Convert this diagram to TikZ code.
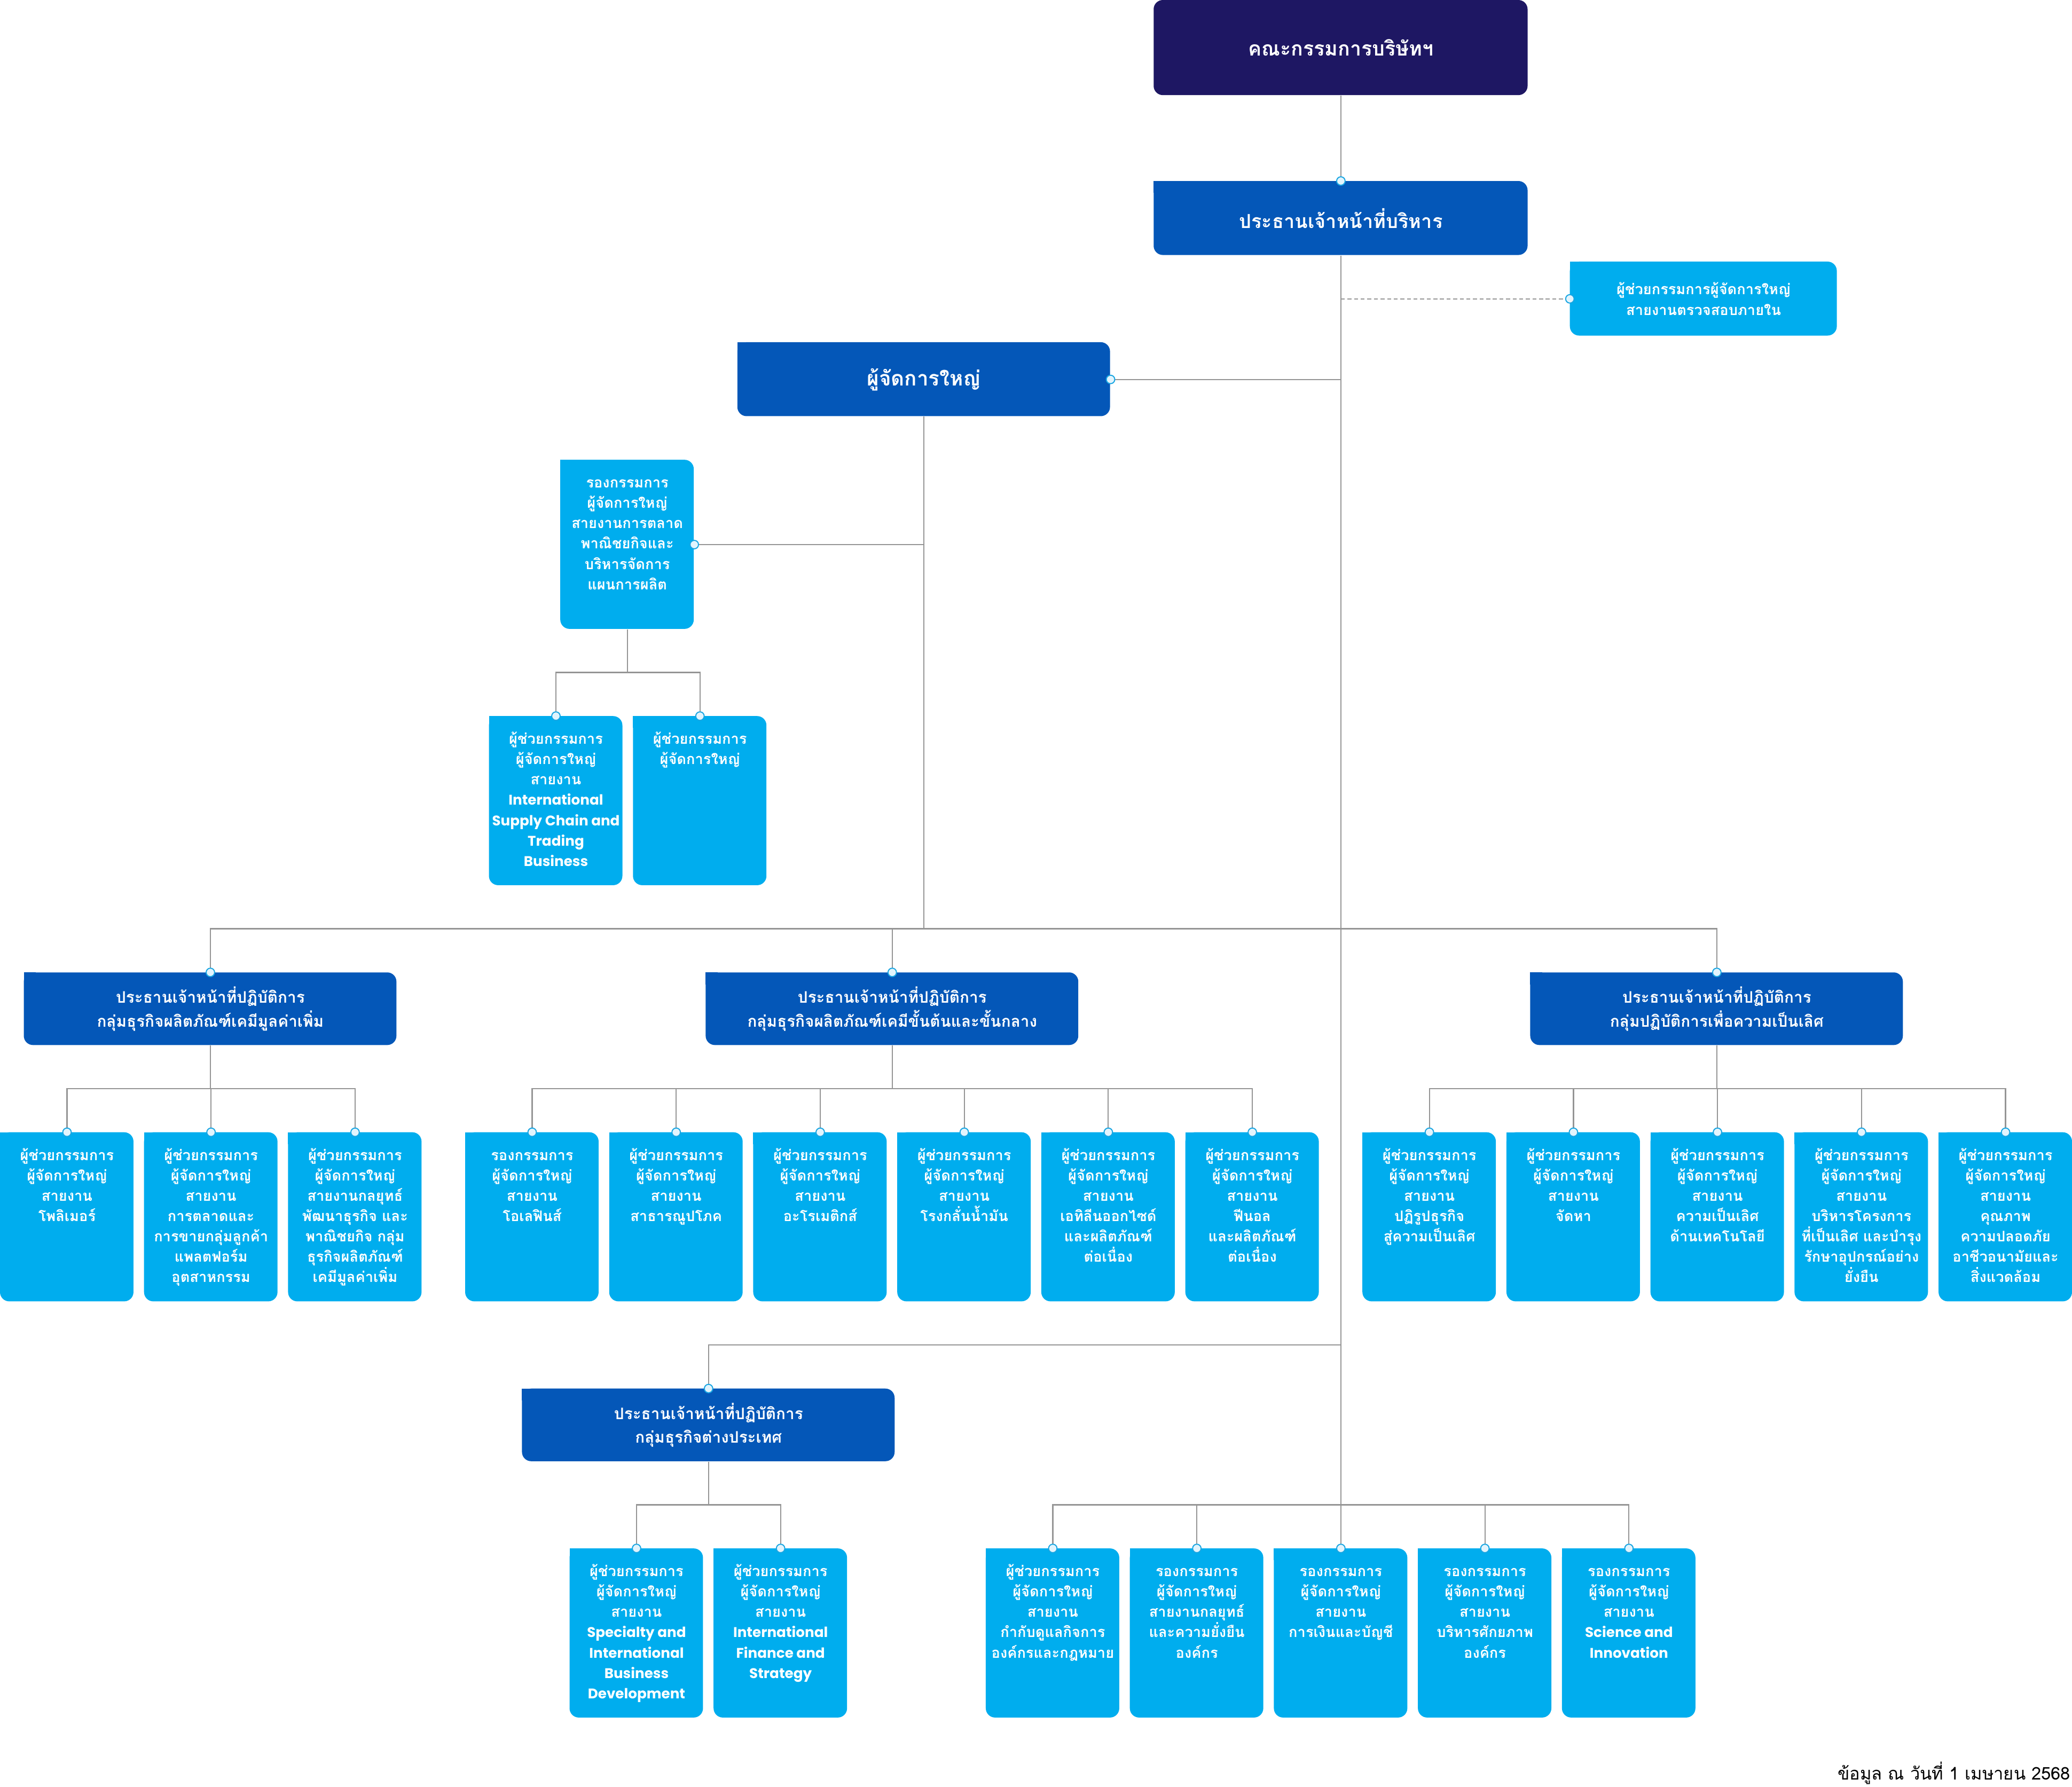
\documentclass[tikz,border=0pt]{standalone}
\usepackage{fontspec}
\setmainfont{Loma}[Script=Thai]
\newfontfamily\en{Poppins}
\newcommand\enl[1]{{\en\fontsize{10.6}{15.4}\selectfont #1}}
\definecolor{boardc}{HTML}{1E1763}
\definecolor{darkb}{HTML}{0457B8}
\definecolor{lightb}{HTML}{00ADEE}
\definecolor{linegray}{HTML}{959595}
\definecolor{dotfill}{HTML}{E2F4FD}
\definecolor{dotedge}{HTML}{1AA6E2}
\newcommand\shapebox[6]{% x y w h colour
  \fill[#5,rounded corners=7pt] (#1,#2) rectangle ++(#3,#4);
  \ifx#6y\fill[#5] (#1,#2) rectangle ++(9,9);\fi}
% dark box: name x y w h colour size skip text
\newcommand\dbox[9]{%
  \shapebox{#2}{#3}{#4}{#5}{#6}{y}
  \node[anchor=north west,inner sep=0pt,minimum width=#4pt,minimum height=#5pt,
    align=center,text=white,font=\bfseries\fontsize{#7}{#8}\selectfont] (#1) at (#2,#3) {#9};}
% tall light box: name x y text
\newcommand\lbox[4]{%
  \shapebox{#2}{#3}{101}{128}{lightb}{y}
  \node[anchor=north west,inner xsep=1.5pt,inner ysep=4pt,minimum width=101pt,minimum height=128pt,
    text=white,font=\bfseries\fontsize{11}{15.4}\selectfont] (#1) at (#2,#3)
    {\parbox[c][120pt][t]{98pt}{\centering\rule{0pt}{17pt}#4}};}
\newcommand\dotat[1]{\filldraw[fill=dotfill,draw=dotedge,line width=0.8pt] (#1) circle (3.2pt);}
\begin{document}
\begin{tikzpicture}[x=1pt,y=-1pt,conn/.style={draw=linegray,line width=0.9pt}]
\useasboundingbox (0,0) rectangle (1568,1352.2);
% ---------------- boxes ----------------
\fill[boardc,rounded corners=7pt] (873,0) rectangle ++(283,72);
\node[anchor=north west,inner sep=0pt,minimum width=283pt,minimum height=72pt,
  text=white,font=\bfseries\fontsize{15.2}{18}\selectfont] (board) at (873,0) {คณะกรรมการบริษัทฯ};
\dbox{ceo}{873}{137}{283}{56}{darkb}{14.6}{18}{ประธานเจ้าหน้าที่บริหาร}
\dbox{audit}{1188}{198}{202}{56}{lightb}{11}{15.5}{ผู้ช่วยกรรมการผู้จัดการใหญ่\\สายงานตรวจสอบภายใน}
\dbox{gm}{558}{259}{282}{56}{darkb}{15.6}{18}{ผู้จัดการใหญ่}
\shapebox{424}{348}{101}{128}{lightb}{y}
\node[anchor=north west,inner xsep=1.5pt,inner ysep=4pt,minimum width=101pt,minimum height=128pt,
    text=white,font=\bfseries\fontsize{11}{15.4}\selectfont] (vp) at (424,348)
    {\parbox[c][120pt][t]{98pt}{\centering\rule{0pt}{17pt}รองกรรมการ\\ผู้จัดการใหญ่\\สายงานการตลาด\\พาณิชยกิจและ\\บริหารจัดการ\\แผนการผลิต}};
\lbox{vpa}{370}{542}{ผู้ช่วยกรรมการ\\ผู้จัดการใหญ่\\สายงาน\\\enl{International}\\\enl{Supply Chain and}\\\enl{Trading}\\\enl{Business}}
\lbox{vpb}{479}{542}{ผู้ช่วยกรรมการ\\ผู้จัดการใหญ่}
\dbox{cooa}{18}{736}{282}{55}{darkb}{12}{18}{ประธานเจ้าหน้าที่ปฏิบัติการ\\กลุ่มธุรกิจผลิตภัณฑ์เคมีมูลค่าเพิ่ม}
\dbox{coob}{534}{736}{282}{55}{darkb}{12}{18}{ประธานเจ้าหน้าที่ปฏิบัติการ\\กลุ่มธุรกิจผลิตภัณฑ์เคมีขั้นต้นและขั้นกลาง}
\dbox{cooc}{1158}{736}{282}{55}{darkb}{12}{18}{ประธานเจ้าหน้าที่ปฏิบัติการ\\กลุ่มปฏิบัติการเพื่อความเป็นเลิศ}
\dbox{coos}{395}{1051}{282}{55}{darkb}{12}{18}{ประธานเจ้าหน้าที่ปฏิบัติการ\\กลุ่มธุรกิจต่างประเทศ}
% row A
\lbox{a1}{0}{857}{ผู้ช่วยกรรมการ\\ผู้จัดการใหญ่\\สายงาน\\โพลิเมอร์}
\lbox{a2}{109}{857}{ผู้ช่วยกรรมการ\\ผู้จัดการใหญ่\\สายงาน\\การตลาดและ\\การขายกลุ่มลูกค้า\\แพลตฟอร์ม\\อุตสาหกรรม}
\lbox{a3}{218}{857}{ผู้ช่วยกรรมการ\\ผู้จัดการใหญ่\\สายงานกลยุทธ์\\พัฒนาธุรกิจ และ\\พาณิชยกิจ กลุ่ม\\ธุรกิจผลิตภัณฑ์\\เคมีมูลค่าเพิ่ม}
\lbox{b1}{352}{857}{รองกรรมการ\\ผู้จัดการใหญ่\\สายงาน\\โอเลฟินส์}
\lbox{b2}{461}{857}{ผู้ช่วยกรรมการ\\ผู้จัดการใหญ่\\สายงาน\\สาธารณูปโภค}
\lbox{b3}{570}{857}{ผู้ช่วยกรรมการ\\ผู้จัดการใหญ่\\สายงาน\\อะโรเมติกส์}
\lbox{b4}{679}{857}{ผู้ช่วยกรรมการ\\ผู้จัดการใหญ่\\สายงาน\\โรงกลั่นน้ำมัน}
\lbox{b5}{788}{857}{ผู้ช่วยกรรมการ\\ผู้จัดการใหญ่\\สายงาน\\เอทิลีนออกไซด์\\และผลิตภัณฑ์\\ต่อเนื่อง}
\lbox{b6}{897}{857}{ผู้ช่วยกรรมการ\\ผู้จัดการใหญ่\\สายงาน\\ฟีนอล\\และผลิตภัณฑ์\\ต่อเนื่อง}
\lbox{c1}{1031}{857}{ผู้ช่วยกรรมการ\\ผู้จัดการใหญ่\\สายงาน\\ปฏิรูปธุรกิจ\\สู่ความเป็นเลิศ}
\lbox{c2}{1140}{857}{ผู้ช่วยกรรมการ\\ผู้จัดการใหญ่\\สายงาน\\จัดหา}
\lbox{c3}{1249}{857}{ผู้ช่วยกรรมการ\\ผู้จัดการใหญ่\\สายงาน\\ความเป็นเลิศ\\ด้านเทคโนโลยี}
\lbox{c4}{1358}{857}{ผู้ช่วยกรรมการ\\ผู้จัดการใหญ่\\สายงาน\\บริหารโครงการ\\ที่เป็นเลิศ และบำรุง\\รักษาอุปกรณ์อย่าง\\ยั่งยืน}
\lbox{c5}{1467}{857}{ผู้ช่วยกรรมการ\\ผู้จัดการใหญ่\\สายงาน\\คุณภาพ\\ความปลอดภัย\\อาชีวอนามัยและ\\สิ่งแวดล้อม}
% bottom
\lbox{d1}{431}{1172}{ผู้ช่วยกรรมการ\\ผู้จัดการใหญ่\\สายงาน\\\enl{Specialty and}\\\enl{International}\\\enl{Business}\\\enl{Development}}
\lbox{d2}{540}{1172}{ผู้ช่วยกรรมการ\\ผู้จัดการใหญ่\\สายงาน\\\enl{International}\\\enl{Finance and}\\\enl{Strategy}}
\lbox{e1}{746}{1172}{ผู้ช่วยกรรมการ\\ผู้จัดการใหญ่\\สายงาน\\กำกับดูแลกิจการ\\องค์กรและกฎหมาย}
\lbox{e2}{855}{1172}{รองกรรมการ\\ผู้จัดการใหญ่\\สายงานกลยุทธ์\\และความยั่งยืน\\องค์กร}
\lbox{e3}{964}{1172}{รองกรรมการ\\ผู้จัดการใหญ่\\สายงาน\\การเงินและบัญชี}
\lbox{e4}{1073}{1172}{รองกรรมการ\\ผู้จัดการใหญ่\\สายงาน\\บริหารศักยภาพ\\องค์กร}
\lbox{e5}{1182}{1172}{รองกรรมการ\\ผู้จัดการใหญ่\\สายงาน\\\enl{Science and}\\\enl{Innovation}}
\node[anchor=base east,inner sep=0pt,font=\fontsize{13.2}{15}\selectfont,text=black] (note) at (1567,1347) {ข้อมูล ณ วันที่ 1 เมษายน 2568};
% ---------------- connectors ----------------
\coordinate (tA) at (ceo.south |- audit.west);
\coordinate (tG) at (ceo.south |- gm.east);
\coordinate (t3) at (1014.5,703);
\coordinate (tS) at (1014.5,1018);
\coordinate (tE) at (1014.5,1139);
\draw[conn] (board.south) -- (ceo.north);
\draw[conn] (ceo.south) -- (e3.north);
\draw[conn,dashed,dash pattern=on 3pt off 2pt] (tA) -- (audit.west);
\draw[conn] (tG) -- (gm.east);
\coordinate (gV) at (gm.south |- vp.east);
\coordinate (g3) at (gm.south |- t3);
\draw[conn] (gm.south) -- (g3);
\draw[conn] (gV) -- (vp.east);
% vp children
\draw[conn] (vp.south) -- (vp.south |- 0,509) (vpa.north) -- (vpa.north |- 0,509) -| (vpb.north);
% level 3 bus
\draw[conn] (cooa.north) -- (cooa.north |- t3) -| (cooc.north);
\draw[conn] (coob.north) -- (coob.north |- t3);
% row A bus
\draw[conn] (cooa.south) -- (cooa.south |- 0,824);
\draw[conn] (a1.north) -- (a1.north |- 0,824) -| (a3.north);
\draw[conn] (a2.north) -- (a2.north |- 0,824);
\draw[conn] (coob.south) -- (coob.south |- 0,824);
\draw[conn] (b1.north) -- (b1.north |- 0,824) -| (b6.north);
\foreach \n in {b2,b3,b4,b5} {\draw[conn] (\n.north) -- (\n.north |- 0,824);}
\draw[conn] (cooc.south) -- (cooc.south |- 0,824);
\draw[conn] (c1.north) -- (c1.north |- 0,824) -| (c5.north);
\foreach \n in {c2,c3,c4} {\draw[conn] (\n.north) -- (\n.north |- 0,824);}
% overseas
\draw[conn] (tS) -| (coos.north);
\draw[conn] (coos.south) -- (coos.south |- 0,1139);
\draw[conn] (d1.north) -- (d1.north |- 0,1139) -| (d2.north);
\draw[conn] (e1.north) -- (e1.north |- tE) -| (e5.north);
\foreach \n in {e2,e4} {\draw[conn] (\n.north) -- (\n.north |- tE);}
% dots
\foreach \n in {ceo.north,audit.west,gm.east,vp.east,vpa.north,vpb.north,cooa.north,coob.north,cooc.north,a1.north,a2.north,a3.north,b1.north,b2.north,b3.north,b4.north,b5.north,b6.north,c1.north,c2.north,c3.north,c4.north,c5.north,coos.north,d1.north,d2.north,e1.north,e2.north,e3.north,e4.north,e5.north} {\dotat{\n}}
\end{tikzpicture}
\end{document}
